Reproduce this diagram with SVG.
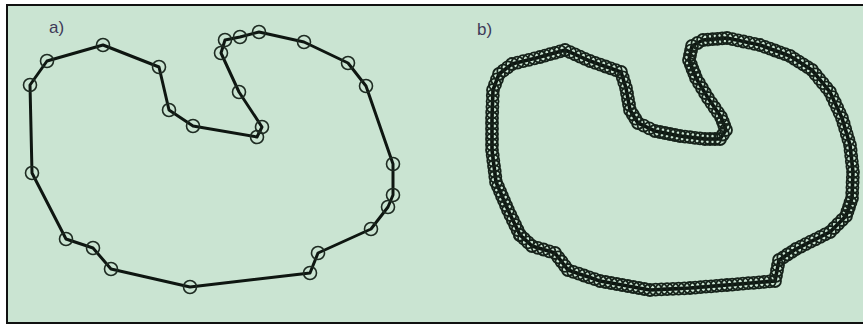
<svg xmlns="http://www.w3.org/2000/svg" width="863" height="325" viewBox="0 0 863 325">
  <style>
    .lbl { font-family: "Liberation Sans", Arial, sans-serif; font-size: 17px; fill: #3e3a58; }
    .lineA { fill: none; stroke: #0e1611; stroke-width: 3; stroke-linejoin: round; }
    .ringA { fill: none; stroke: #1e2b22; stroke-width: 1.6; }
    .lineB { fill: none; stroke: #0c140f; stroke-width: 3.6; stroke-linejoin: round; marker-start: url(#ring); marker-mid: url(#ring); marker-end: url(#ring); }
  </style>
  <defs>
    <marker id="ring" markerUnits="userSpaceOnUse" markerWidth="16" markerHeight="16" refX="8" refY="8" overflow="visible">
      <circle cx="8" cy="8" r="6" fill="none" stroke="#16221a" stroke-width="1.8"/>
    </marker>
  </defs>
  <rect x="0" y="0" width="863" height="325" fill="#ffffff"/>
  <rect x="7" y="5" width="862" height="318" fill="#cae4d2" stroke="#111111" stroke-width="2"/>

  <g id="panel-a">
    <text class="lbl" x="49" y="33">a)</text>
    <polygon class="lineA" points="30,85 47,61 103,45 159,67 169,110 193,126 257,137 262,127 239,92 221,53 225,40 240,37 259,32 304,42 348,63 366,86 393,164 393,195 388,207 371,229 318,253 310,273 190,287 111,269 93,248 66,239 32,173"/>
    <g id="a-points">
      <circle class="ringA" cx="30" cy="85" r="6.5"/>
      <circle class="ringA" cx="47" cy="61" r="6.5"/>
      <circle class="ringA" cx="103" cy="45" r="6.5"/>
      <circle class="ringA" cx="159" cy="67" r="6.5"/>
      <circle class="ringA" cx="169" cy="110" r="6.5"/>
      <circle class="ringA" cx="193" cy="126" r="6.5"/>
      <circle class="ringA" cx="257" cy="137" r="6.5"/>
      <circle class="ringA" cx="262" cy="127" r="6.5"/>
      <circle class="ringA" cx="239" cy="92" r="6.5"/>
      <circle class="ringA" cx="221" cy="53" r="6.5"/>
      <circle class="ringA" cx="225" cy="40" r="6.5"/>
      <circle class="ringA" cx="240" cy="37" r="6.5"/>
      <circle class="ringA" cx="259" cy="32" r="6.5"/>
      <circle class="ringA" cx="304" cy="42" r="6.5"/>
      <circle class="ringA" cx="348" cy="63" r="6.5"/>
      <circle class="ringA" cx="366" cy="86" r="6.5"/>
      <circle class="ringA" cx="393" cy="164" r="6.5"/>
      <circle class="ringA" cx="393" cy="195" r="6.5"/>
      <circle class="ringA" cx="388" cy="207" r="6.5"/>
      <circle class="ringA" cx="371" cy="229" r="6.5"/>
      <circle class="ringA" cx="318" cy="253" r="6.5"/>
      <circle class="ringA" cx="310" cy="273" r="6.5"/>
      <circle class="ringA" cx="190" cy="287" r="6.5"/>
      <circle class="ringA" cx="111" cy="269" r="6.5"/>
      <circle class="ringA" cx="93" cy="248" r="6.5"/>
      <circle class="ringA" cx="66" cy="239" r="6.5"/>
      <circle class="ringA" cx="32" cy="173" r="6.5"/>
    </g>
  </g>

  <g id="panel-b">
    <text class="lbl" x="477" y="35">b)</text>
    <polygon class="lineB" points="520,235 517.6,230 515.2,225 512.8,220 510.4,215 508,210 506,205.3 504,200.7 502,196 500,191.3 498,186.7 496,182 495.3,176.7 494.7,171.3 494,166 493.3,160.7 492.7,155.3 492,150 492,144.7 492,139.3 492,134 492,128.7 492,123.3 492,118 492.2,112.4 492.4,106.8 492.6,101.2 492.8,95.6 493,90 495,84.7 497,79.3 499,74 503.3,70.7 507.7,67.3 512,64 517.6,62.6 523.2,61.2 528.8,59.8 534.4,58.4 540,57 545,55.6 550,54.2 555,52.8 560,51.4 565,50 570,52.2 575,54.4 580,56.6 585,58.8 590,61 595.2,62.8 600.3,64.7 605.5,66.5 610.7,68.3 615.8,70.2 621,72 622.7,77.3 624.3,82.7 626,88 627,93.5 628,99 629,104.5 630,110 632.7,114.3 635.3,118.7 638,123 643.7,125.7 649.3,128.3 655,131 660,132 665,133 670,134 675,135 680,136 685,136.6 690,137.2 695,137.8 700,138.4 705,139 710,139 715,139 720,139 723,134.5 726,130 724.3,125.7 722.7,121.3 721,117 717.8,112.3 714.5,107.5 711.3,102.8 708,98 705,93 702,88 699,83 696,78 694.3,73.5 692.5,69 690.8,64.5 689,60 690,55.3 691,50.7 692,46 697.5,43 703,40 707.8,39.6 712.6,39.2 717.4,38.8 722.2,38.4 727,38 732.5,39.2 738,40.3 743.5,41.5 749,42.7 754.5,43.8 760,45 765,46.8 770,48.7 775,50.5 780,52.3 785,54.2 790,56 794.4,58.8 798.8,61.6 803.2,64.4 807.6,67.2 812,70 815.6,74.4 819.2,78.8 822.8,83.2 826.4,87.6 830,92 832.4,97.2 834.8,102.4 837.2,107.6 839.6,112.8 842,118 843.6,123.4 845.2,128.8 846.8,134.2 848.4,139.6 850,145 850.6,150.4 851.2,155.8 851.8,161.2 852.4,166.6 853,172 852.8,177.2 852.6,182.4 852.4,187.6 852.2,192.8 852,198 850.5,202.5 849,207 847.5,211.5 846,216 842,220 838,224 834,228 830,232 825.1,234.4 820.3,236.9 815.4,239.3 810.6,241.7 805.7,244.1 800.9,246.6 796,249 791.8,251.8 787.5,254.5 783.3,257.3 779,260 778,265.3 777,270.5 776,275.8 775,281 769.7,281.4 764.3,281.9 759,282.3 753.7,282.8 748.3,283.2 743,283.7 737.7,284.1 732.3,284.6 727,285 721.7,285.4 716.4,285.9 711.1,286.3 705.9,286.7 700.6,287.1 695.3,287.6 690,288 684.3,288.3 678.6,288.6 672.9,288.9 667.1,289.1 661.4,289.4 655.7,289.7 650,290 644.4,289 638.9,288 633.3,287 627.8,286 622.2,285 616.7,284 611.1,283 605.6,282 600,281 594.7,279.2 589.3,277.3 584,275.5 578.7,273.7 573.3,271.8 568,270 564.8,265.8 561.5,261.5 558.3,257.3 555,253 549.3,251.3 543.5,249.5 537.8,247.8 532,246 528,242.3 524,238.7"/>
  </g>
</svg>
